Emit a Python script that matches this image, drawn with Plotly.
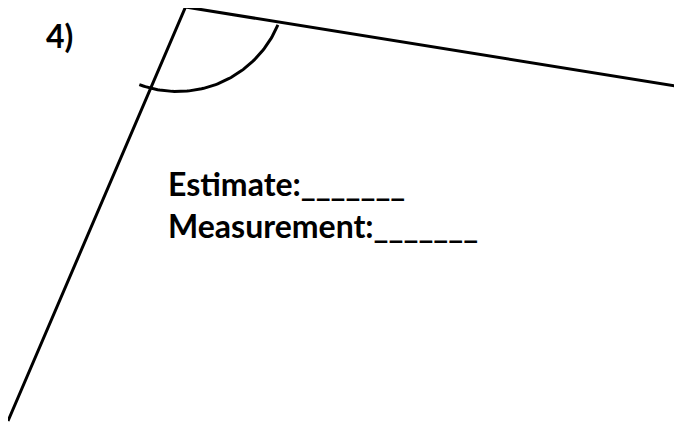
import numpy as np
import plotly.graph_objects as go

# Geometry of the angle (pixel-like coordinates, y grows downward)
vertex = [185.5, 7]
ray_right_end = [682, 87]
ray_left_end = [8, 421]

# Arc marking the angle
arc_center = [177.5, -17.5]
arc_radius = 109
arc_angles_deg = [22.9, 110.5]

label_number = "4)"
label_estimate = "Estimate:_______"
label_measure = "Measurement:_______"

W, H = 682, 422
OFF = 8  # page body margin of the browser
fig = go.Figure()

line_style = dict(color="black", width=3)
fig.add_trace(go.Scatter(x=[ray_left_end[0], vertex[0], ray_right_end[0]],
                         y=[ray_left_end[1], vertex[1], ray_right_end[1]],
                         mode="lines", line=line_style, hoverinfo="skip"))

t = np.radians(np.linspace(arc_angles_deg[0], arc_angles_deg[1], 80))
ax = arc_center[0] + arc_radius * np.cos(t)
ay = arc_center[1] + arc_radius * np.sin(t)
fig.add_trace(go.Scatter(x=ax, y=ay, mode="lines", line=line_style, hoverinfo="skip"))

font = dict(family="Lato", size=32, color="black")
fig.add_annotation(x=44, y=35, text="<b>" + label_number + "</b>", showarrow=False,
                   xanchor="left", yanchor="middle", font=font)
fig.add_annotation(x=166, y=183, text="<b>" + label_estimate + "</b>", showarrow=False,
                   xanchor="left", yanchor="middle", font=font)
fig.add_annotation(x=166, y=225, text="<b>" + label_measure + "</b>", showarrow=False,
                   xanchor="left", yanchor="middle", font=font)

fig.update_layout(
    width=W, height=H, margin=dict(l=0, r=0, t=0, b=0),
    paper_bgcolor="white", plot_bgcolor="white", showlegend=False,
    xaxis=dict(range=[OFF, W + OFF], visible=False, fixedrange=True),
    yaxis=dict(range=[H + OFF, OFF], visible=False, fixedrange=True),
)
fig.write_html("out.html", config={"displayModeBar": False})
